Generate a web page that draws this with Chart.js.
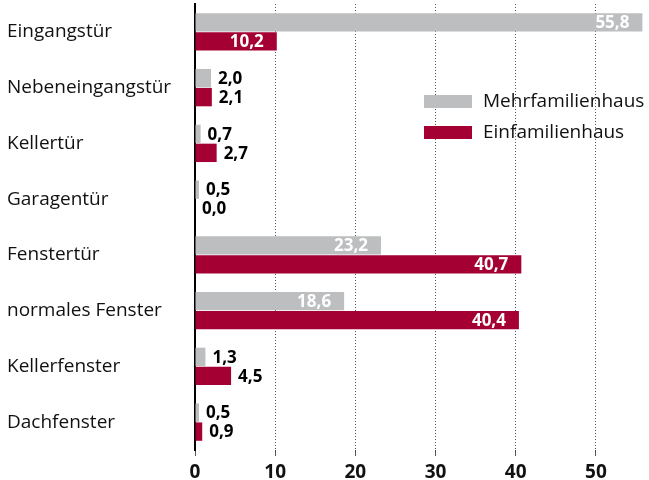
<!DOCTYPE html>
<html>
<head>
<meta charset="utf-8">
<script src="https://cdn.jsdelivr.net/npm/chart.js@4"></script>
<style>
  html, body { margin: 0; padding: 0; background: #fff; }
  #wrap { width: 649px; height: 480px; }
</style>
</head>
<body>
<div id="wrap"><canvas id="chart"></canvas></div>
<script>
// Werte aus der Grafik (Prozent)
const categories = ['Eingangstür', 'Nebeneingangstür', 'Kellertür', 'Garagentür',
                    'Fenstertür', 'normales Fenster', 'Kellerfenster', 'Dachfenster'];
const mehrfamilienhaus = [55.8, 2.0, 0.7, 0.5, 23.2, 18.6, 1.3, 0.5];
const einfamilienhaus  = [10.2, 2.1, 2.7, 0.0, 40.7, 40.4, 4.5, 0.9];
const seriesNames = ['Mehrfamilienhaus', 'Einfamilienhaus'];
const xTicks = [0, 10, 20, 30, 40, 50];

const GREY = '#bcbec0';
const RED = '#a50034';
const FONT = '"Open Sans", "Noto Sans", sans-serif';

// Wertebeschriftung: innen weiß bei langen Balken, sonst schwarz daneben
const valueLabels = {
    id: 'valueLabels',
    afterDatasetsDraw(chart) {
        const ctx = chart.ctx;
        ctx.save();
        ctx.font = 'bold 17px ' + FONT;
        ctx.textBaseline = 'middle';
        chart.data.datasets.forEach((ds, i) => {
            const meta = chart.getDatasetMeta(i);
            meta.data.forEach((bar, j) => {
                const v = ds.data[j];
                const txt = v.toFixed(1).replace('.', ',');
                if (v >= 8) {
                    ctx.fillStyle = '#fff';
                    ctx.textAlign = 'right';
                    ctx.fillText(txt, bar.x - 13, bar.y + 1);
                } else {
                    ctx.fillStyle = '#000';
                    ctx.textAlign = 'left';
                    ctx.fillText(txt, Math.max(bar.x, bar.base) + 7, bar.y + 1);
                }
            });
        });
        ctx.restore();
    }
};

// Legende frei im Diagramm
const freeLegend = {
    id: 'freeLegend',
    afterDraw(chart) {
        const ctx = chart.ctx;
        const colors = [GREY, RED];
        ctx.save();
        ctx.font = '19px ' + FONT;
        ctx.textBaseline = 'middle';
        ctx.textAlign = 'left';
        seriesNames.forEach((name, i) => {
            const y = 102 + i * 31;
            ctx.fillStyle = colors[i];
            ctx.fillRect(424, y - 7, 48, 13);
            ctx.fillStyle = '#111';
            ctx.fillText(name, 483, y);
        });
        ctx.restore();
    }
};

new Chart(document.getElementById('chart'), {
    type: 'bar',
    data: {
        labels: categories,
        datasets: [
            { label: seriesNames[0], data: mehrfamilienhaus, backgroundColor: GREY,
              barPercentage: 0.97, categoryPercentage: 0.68 },
            { label: seriesNames[1], data: einfamilienhaus, backgroundColor: RED,
              barPercentage: 0.97, categoryPercentage: 0.68 }
        ]
    },
    options: {
        indexAxis: 'y',
        responsive: true,
        maintainAspectRatio: false,
        animation: false,
        layout: { padding: { left: 7, right: 5, top: 4, bottom: 0 } },
        plugins: {
            legend: { display: false },
            tooltip: { enabled: false }
        },
        scales: {
            x: {
                min: 0,
                max: 56,
                afterBuildTicks(axis) {
                    axis.ticks = xTicks.map(v => ({ value: v }));
                },
                afterFit(axis) { axis.height = 30; },
                grid: {
                    color: '#555',
                    lineWidth: 1,
                    tickLength: 6,
                    drawTicks: true
                },
                border: { display: false, dash: [1, 2] },
                ticks: {
                    color: '#111',
                    padding: 5,
                    font: { family: FONT, size: 19, weight: 'bold' }
                }
            },
            y: {
                grid: { display: false },
                border: { display: true, color: '#000', width: 2 },
                afterFit(axis) {
                    axis.width = 188;
                    axis.paddingTop = 0;
                    axis.paddingBottom = 0;
                },
                ticks: {
                    crossAlign: 'far',
                    color: '#111',
                    padding: 8,
                    font: { family: FONT, size: 19 }
                }
            }
        }
    },
    plugins: [valueLabels, freeLegend]
});
</script>
</body>
</html>
